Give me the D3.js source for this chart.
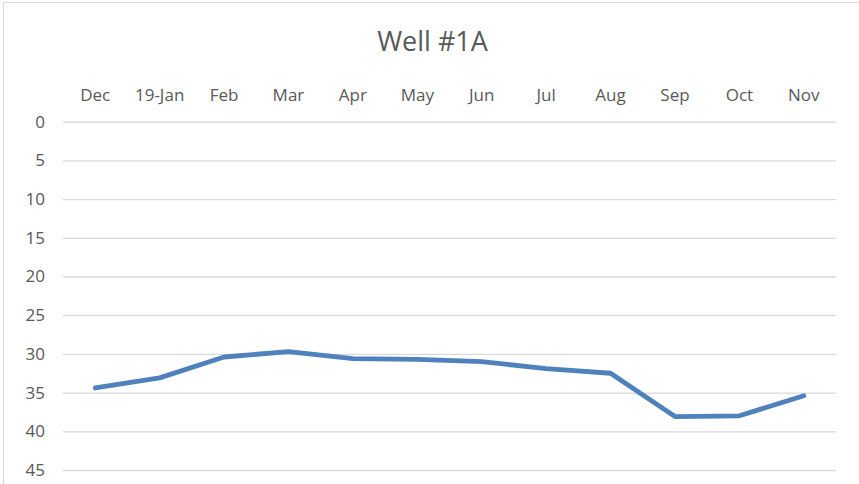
<!DOCTYPE html>
<html><head><meta charset="utf-8">
<script src="https://cdn.jsdelivr.net/npm/d3@7"></script>
<style>body{margin:0;background:#fff;} svg{display:block;font-family:"Open Sans","Noto Sans",sans-serif;}</style>
</head><body>
<svg id="c" width="859" height="484"></svg>
<script>
const categories = ["Dec","19-Jan","Feb","Mar","Apr","May","Jun","Jul","Aug","Sep","Oct","Nov"];
const depths = [34.4,33.1,30.4,29.7,30.6,30.7,31.0,31.9,32.5,38.1,38.0,35.4];
const yTicks = [0,5,10,15,20,25,30,35,40,45];
const title = "Well #1A";

(function(){
const svg = d3.select("#c");
svg.append("rect").attr("x",3.5).attr("y",2.5).attr("width",870).attr("height",500)
  .attr("fill","#fff").attr("stroke","#d9d9d9");

const pL = 63, pR = 836, pT = 121.7, pB = 470;
const x = d3.scaleBand().domain(categories).range([pL,pR]);
const y = d3.scaleLinear().domain([0,45]).range([pT,pB]);

svg.append("text").attr("x",432.5).attr("y",51).attr("text-anchor","middle")
  .attr("font-size",27).attr("fill","#595959").text(title);

const gy = svg.append("g").attr("transform",`translate(${pL},0)`)
  .call(d3.axisLeft(y).tickValues(yTicks).tickSize(-(pR-pL)).tickPadding(18));
gy.attr("font-family","Open Sans");
gy.select(".domain").remove();
gy.selectAll(".tick line").attr("stroke","#d9d9d9").attr("stroke-width",1.3);
gy.selectAll(".tick text").attr("font-size",17).attr("fill","#595959");

const gx = svg.append("g").attr("transform",`translate(0,${pT})`)
  .call(d3.axisTop(x).tickSize(0).tickPadding(21));
gx.attr("font-family","Open Sans");
gx.select(".domain").remove();
gx.selectAll(".tick text").attr("font-size",17).attr("fill","#595959");

const line = d3.line().x((d,i)=>x(categories[i])+x.bandwidth()/2).y(d=>y(d));
svg.append("path").datum(depths).attr("d",line).attr("fill","none")
  .attr("stroke","#4f81bd").attr("stroke-width",4.8).attr("stroke-linejoin","round").attr("stroke-linecap","round");
})();
</script>
</body></html>
